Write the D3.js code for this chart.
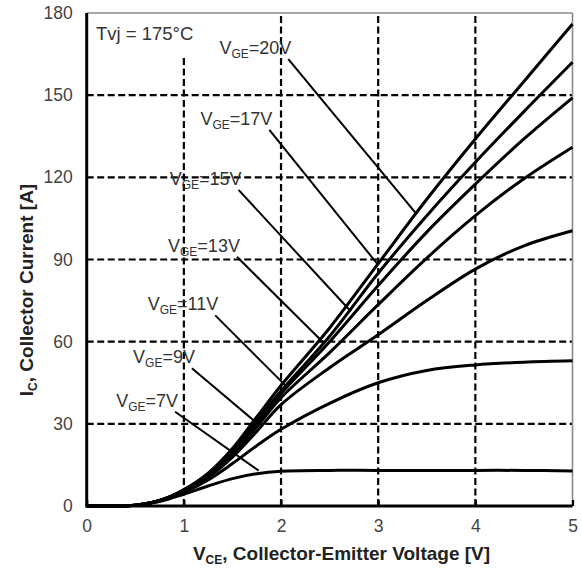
<!DOCTYPE html>
<html>
<head>
<meta charset="utf-8">
<script src="https://cdn.jsdelivr.net/npm/d3@7"></script>
<style>
  html, body { margin: 0; padding: 0; background: #fff; }
  svg { display: block; }
  text { font-family: "Liberation Sans", Arial, sans-serif; }
</style>
</head>
<body>
<svg id="chart" width="582" height="568"></svg>
<script>
// ---- data ----
const vce = [0, 0.25, 0.5, 0.75, 1, 1.25, 1.5, 1.75, 2, 2.5, 3, 3.5, 4, 4.5, 5];
const ic_vge20 = [0, 0, 0.3, 2, 6, 12, 21, 32.5, 44, 65, 88.5, 112, 134, 155, 176];
const ic_vge17 = [0, 0, 0.3, 2, 5.8, 11.5, 20.3, 31.2, 42, 62, 85, 106, 125.5, 144, 162];
const ic_vge15 = [0, 0, 0.3, 2, 5.6, 11.2, 19.6, 30.2, 41, 60, 80.5, 100, 117.5, 134, 149];
const ic_vge13 = [0, 0, 0.3, 1.9, 5.4, 10.8, 18.8, 28.8, 39.5, 56, 73.5, 90.5, 106, 119.5, 131];
const ic_vge11 = [0, 0, 0.3, 1.9, 5.2, 10.4, 17.8, 27.2, 37, 50.5, 62.5, 75, 86.5, 95, 100.5];
const ic_vge9  = [0, 0, 0.3, 1.8, 5, 9.5, 15.5, 22, 28, 37.5, 45, 49.5, 51.5, 52.5, 53];
const ic_vge7  = [0, 0, 0.3, 1.6, 4.3, 7.3, 10, 11.8, 12.7, 13, 13, 13, 13, 13, 12.8];
const seriesNames = ["20V", "17V", "15V", "13V", "11V", "9V", "7V"];
const seriesValues = [ic_vge20, ic_vge17, ic_vge15, ic_vge13, ic_vge11, ic_vge9, ic_vge7];
// label leader lines, in data units [VCE, IC]
const leaderFrom = [[2.075, 163.2], [1.88, 137.3], [1.563, 115.4], [1.546, 91], [1.323, 69.6], [1.083, 50.3], [0.91, 34.4]];
const leaderTo   = [[3.385, 107], [3.0, 88], [2.72, 71], [2.44, 59.5], [2.06, 43.5], [1.76, 30], [1.77, 12.9]];
const xTicks = [0, 1, 2, 3, 4, 5];
const yTicks = [0, 30, 60, 90, 120, 150, 180];
const noteText = "Tvj = 175°C";

// ---- layout ----
const svg = d3.select("#chart");
const x = d3.scaleLinear().domain([0, 5]).range([86.7, 572.5]);
const y = d3.scaleLinear().domain([0, 180]).range([506, 13]);

// grid
const grid = svg.append("g").attr("stroke", "#000").attr("stroke-width", 2.2)
  .attr("stroke-dasharray", "7,3.5").attr("fill", "none");
grid.selectAll("line.v").data(xTicks.filter(d => d > 0 && d < 5)).join("line")
  .attr("x1", d => x(d)).attr("x2", d => x(d)).attr("y1", y(0)).attr("y2", y(180));
grid.selectAll("line.h").data(yTicks.filter(d => d > 0 && d < 180)).join("line")
  .attr("class", "h")
  .attr("x1", x(0)).attr("x2", x(5)).attr("y1", d => y(d)).attr("y2", d => y(d));

// note box (white background hides grid)
svg.append("rect").attr("x", 92).attr("y", 15).attr("width", 108).attr("height", 43).attr("fill", "#fff");
svg.append("text").attr("x", 96).attr("y", 40).attr("font-size", 18.5).attr("fill", "#333").text(noteText);

// frame top/right (thin grey)
svg.append("line").attr("x1", x(0)).attr("x2", x(5)).attr("y1", y(180)).attr("y2", y(180))
  .attr("stroke", "#8a8a8a").attr("stroke-width", 1.6);
svg.append("line").attr("x1", x(5)).attr("x2", x(5)).attr("y1", y(180)).attr("y2", y(0))
  .attr("stroke", "#8a8a8a").attr("stroke-width", 1.6);

// curves
const line = d3.line().x(d => x(d[0])).y(d => y(d[1])).curve(d3.curveCatmullRom.alpha(0.5));
svg.append("g").selectAll("path").data(seriesValues).join("path")
  .attr("d", vals => line(vce.map((v, i) => [v, vals[i]])))
  .attr("fill", "none").attr("stroke", "#000").attr("stroke-width", 3).attr("stroke-linejoin", "round");

// leaders
svg.append("g").selectAll("line").data(seriesNames).join("line")
  .attr("x1", (d, i) => x(leaderFrom[i][0])).attr("y1", (d, i) => y(leaderFrom[i][1]))
  .attr("x2", (d, i) => x(leaderTo[i][0])).attr("y2", (d, i) => y(leaderTo[i][1]))
  .attr("stroke", "#000").attr("stroke-width", 2);

// labels
const lab = svg.append("g").selectAll("text").data(seriesNames).join("text")
  .attr("x", (d, i) => x(leaderFrom[i][0]) + 3).attr("y", (d, i) => y(leaderFrom[i][1]) - 5)
  .attr("text-anchor", "end").attr("font-size", 18).attr("fill", "#333");
lab.append("tspan").text("V");
lab.append("tspan").attr("font-size", 12).attr("dy", 4).text("GE");
lab.append("tspan").attr("dy", -4).text(d => "=" + d);

// axes (thick black left and bottom)
const xAxis = d3.axisBottom(x).tickValues(xTicks).tickSize(-6).tickPadding(14).tickFormat(d3.format("d"));
const gx = svg.append("g").attr("transform", `translate(0,${y(0)})`).call(xAxis);
gx.select(".domain").attr("stroke", "#000").attr("stroke-width", 3).attr("d", `M${x(0)},0H${x(5)}`);
gx.selectAll(".tick line").attr("stroke", "#000").attr("stroke-width", 2.2);
gx.selectAll(".tick text").attr("font-size", 17.5).attr("fill", "#444")
  .attr("font-family", "Liberation Sans, Arial, sans-serif");

const yAxis = d3.axisLeft(y).tickValues(yTicks).tickSize(0).tickPadding(14).tickFormat(d3.format("d"));
const gy = svg.append("g").attr("transform", `translate(${x(0)},0)`).call(yAxis);
gy.select(".domain").attr("stroke", "#000").attr("stroke-width", 3).attr("d", `M0,${y(0) + 1.5}V${y(180)}`);
gy.selectAll(".tick text").attr("font-size", 17.5).attr("fill", "#444")
  .attr("font-family", "Liberation Sans, Arial, sans-serif");

// axis titles
const xt = svg.append("text").attr("x", 341.5).attr("y", 560)
  .attr("text-anchor", "middle").attr("font-size", 19).attr("font-weight", "bold").attr("fill", "#222");
xt.append("tspan").text("V");
xt.append("tspan").attr("font-size", 12).attr("dy", 4).text("CE");
xt.append("tspan").attr("dy", -4).text(", Collector-Emitter Voltage [V]");

const yt = svg.append("text").attr("transform", `translate(33,${290}) rotate(-90)`)
  .attr("text-anchor", "middle").attr("font-size", 19).attr("font-weight", "bold").attr("fill", "#222");
yt.append("tspan").text("I");
yt.append("tspan").attr("font-size", 12).attr("dy", 4).text("C");
yt.append("tspan").attr("dy", -4).text(", Collector Current [A]");
</script>
</body>
</html>
